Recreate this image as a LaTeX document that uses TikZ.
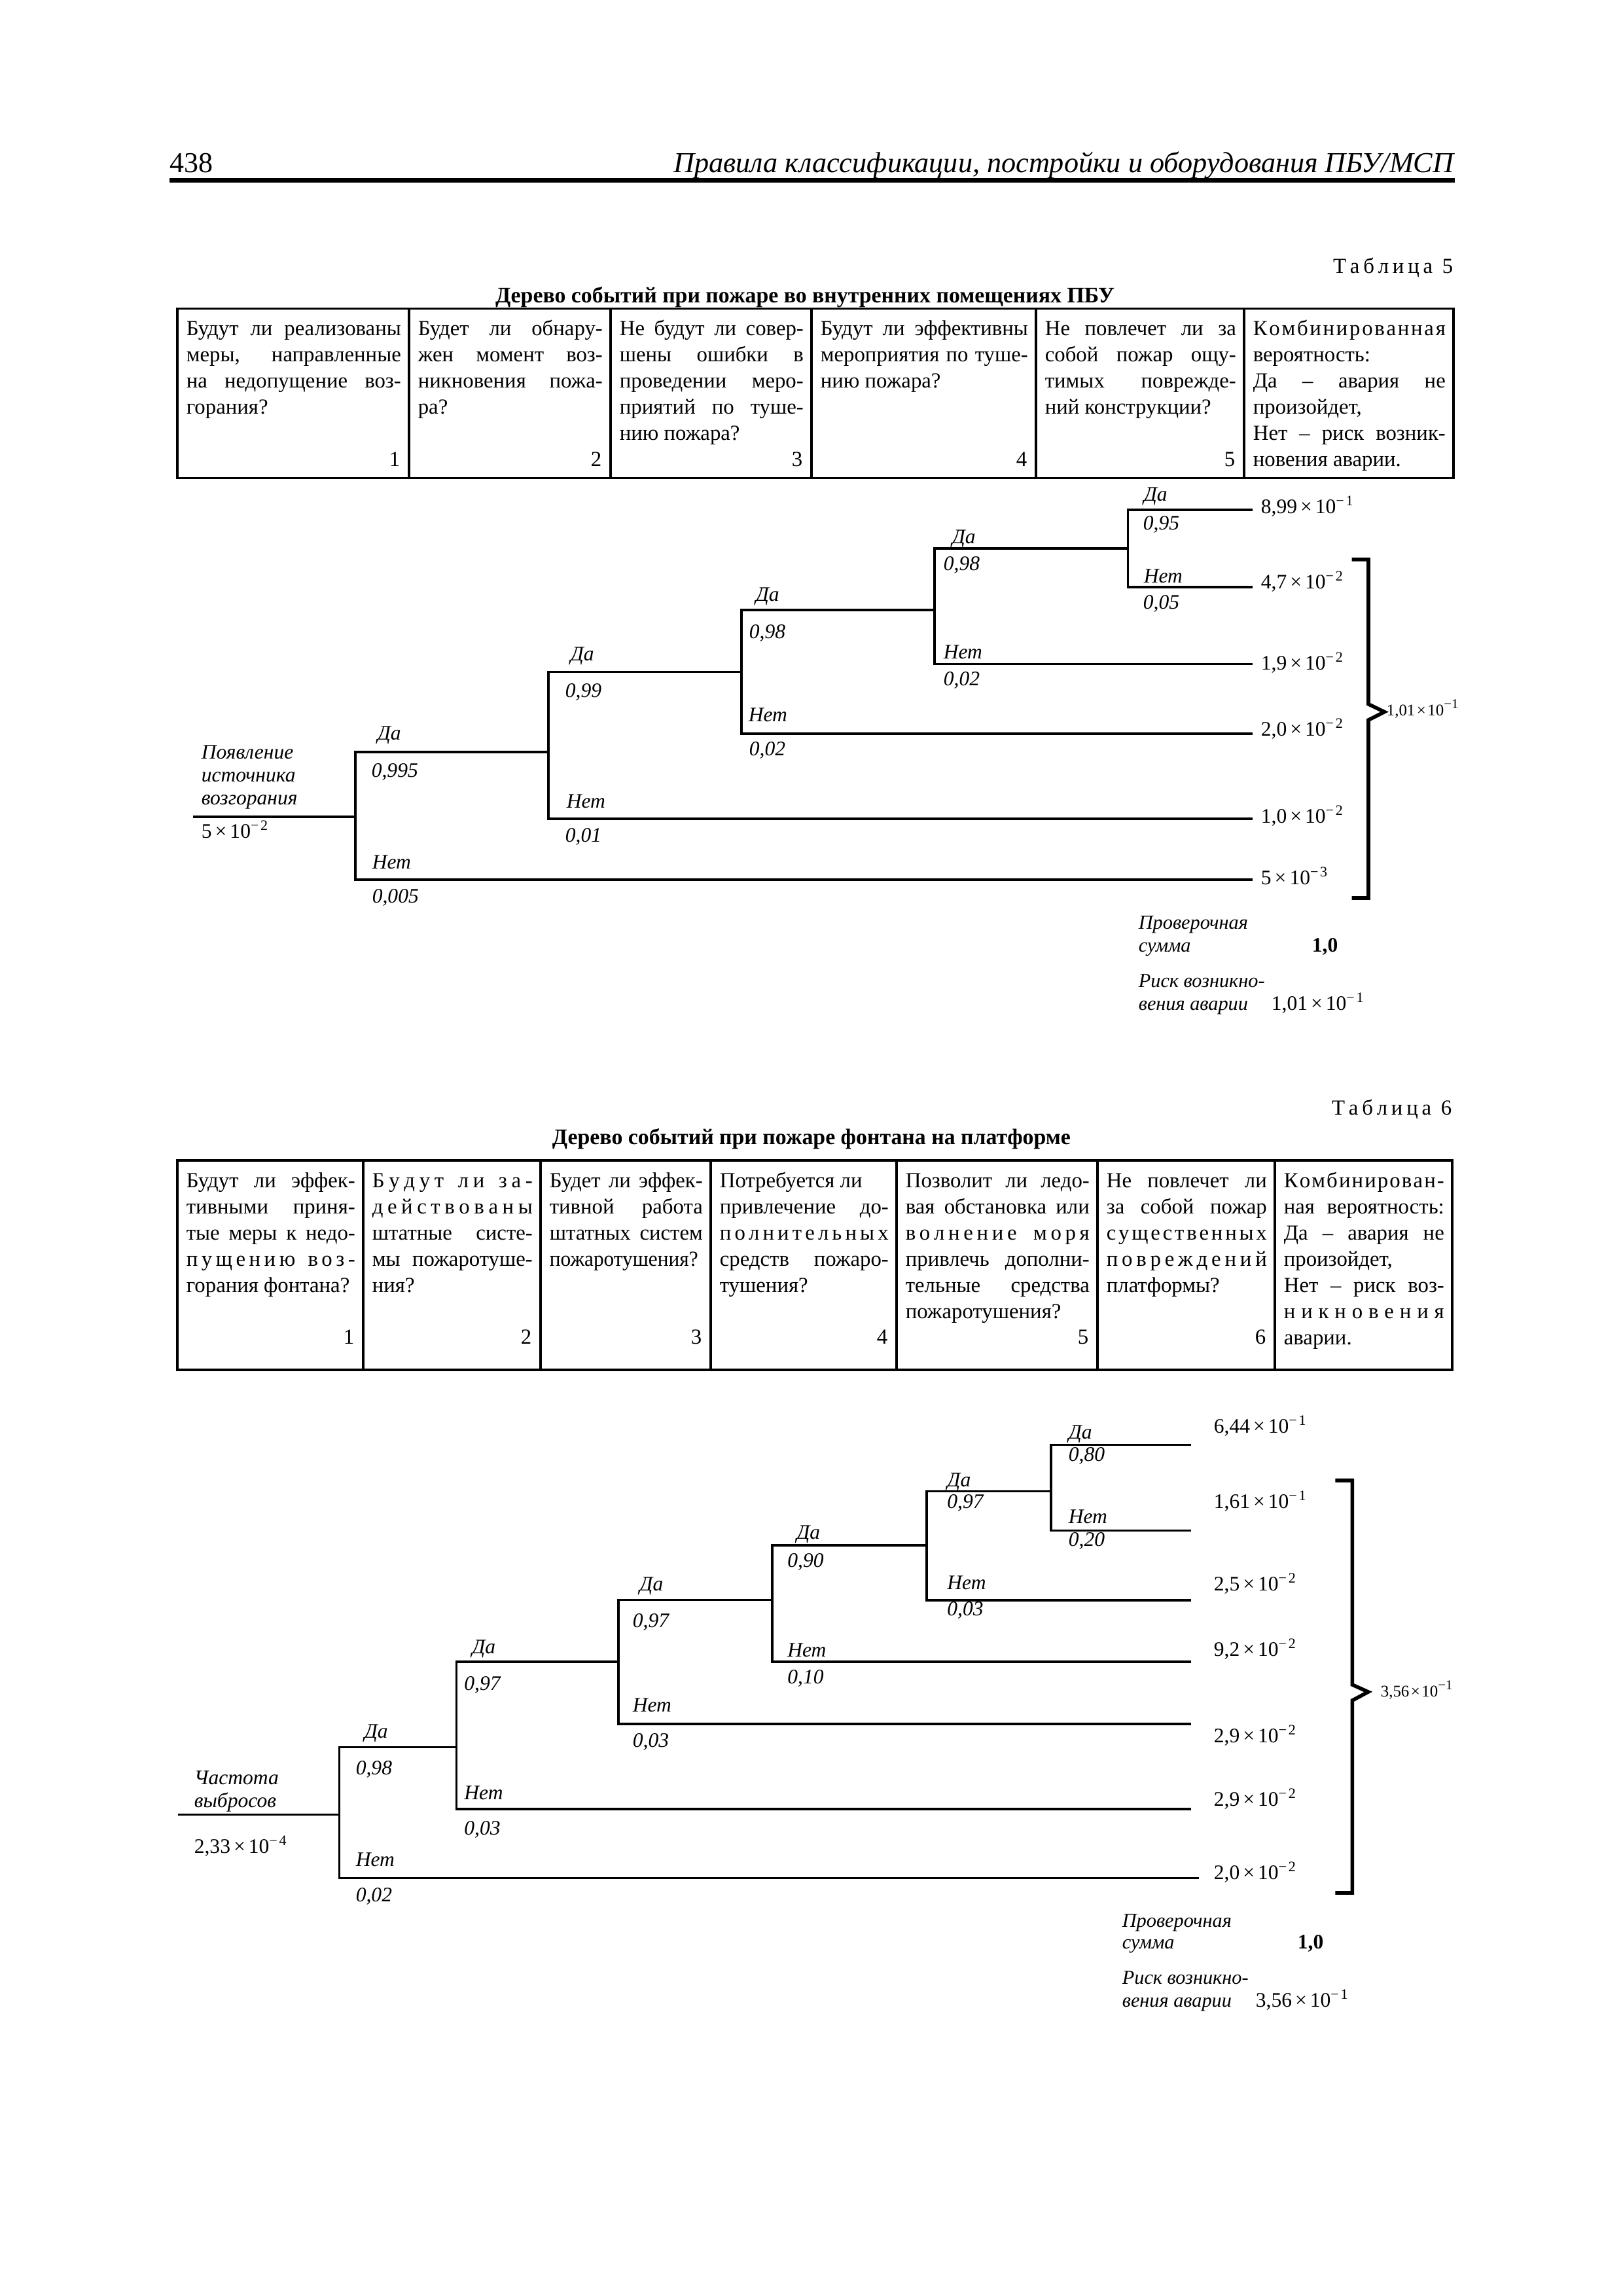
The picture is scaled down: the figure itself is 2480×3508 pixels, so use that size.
\documentclass[tikz,border=0pt]{standalone}
\usepackage{fontspec}
\usepackage{graphicx}
\setmainfont{Liberation Serif}
\newlength\px \setlength\px{0.084667mm}
\makeatletter
\def\lspsep{\hfil}
\def\lsp#1{\lsp@a#1\@nil}
\def\lsp@a#1{#1\lsp@b}
\def\lsp@b#1{\ifx#1\@nil\else\lspsep#1\expandafter\lsp@b\fi}
\makeatother
\newcommand\tracked[2]{{\def\lspsep{\kern#1}\lsp{#2}}}
\newcommand\tabfont{\fontsize{7.9}{9.65}\selectfont}
\newcommand\labfont{\fontsize{7.6}{9}\selectfont\itshape}
\newcommand\sumfont{\fontsize{7.3}{9}\selectfont\itshape}
\newcommand\jline[1]{\makebox[\linewidth][s]{#1}\par}
\newcommand\nline[1]{\mbox{#1}\par}
\newcommand\scin[2]{#1\hspace{0.16em}×\hspace{0.16em}10\textsuperscript{−\hspace{0.12em}#2}}
\newcommand\tcell[5]{\node[anchor=base west,inner sep=0pt] (#1) at (#2,#3) {\parbox[t]{#4\px}{\tabfont\parskip=0pt #5}};}
\tikzset{
  tbl/.style={line width=0.85pt},
  br/.style={line width=0.9pt, line join=miter},
  brk/.style={line width=1.35pt, line join=miter},
  lab/.style={anchor=base west, inner sep=0pt, font=\labfont},
  sumlab/.style={anchor=base west, inner sep=0pt, font=\sumfont},
  outc/.style={anchor=base west, inner sep=0pt, font=\fontsize{7.6}{9}\selectfont},
  num/.style={anchor=base east, inner sep=0pt, font=\tabfont},
  small/.style={anchor=base west, inner sep=0pt, font=\fontsize{6}{7}\selectfont},
  boldv/.style={anchor=base west, inner sep=0pt, font=\fontsize{7.6}{9}\selectfont\bfseries},
  ttl/.style={anchor=base, inner sep=0pt, font=\fontsize{8.15}{10}\selectfont\bfseries},
}
\begin{document}
\begin{tikzpicture}[x=0.084667mm, y=-0.084667mm]
\useasboundingbox (0,0) rectangle (2480,3508);
\fill[white] (0,0) rectangle (2480,3508);

% ---------- page header ----------
\node[anchor=base west, inner sep=0pt, font=\fontsize{10.6}{12}\selectfont] (pnum) at (259,263) {438};
\node[anchor=base east, inner sep=0pt, font=\fontsize{10.65}{12}\selectfont\itshape] (hdr) at (2222,263) {Правила классификации, постройки и оборудования ПБУ/МСП};
\coordinate (ruleL) at (259,275.5);
\coordinate (ruleR) at (2223,275.5);
\draw[line width=1.7pt] (ruleL) -- (ruleR);

% ---------- table 5 ----------
\node[anchor=base east, inner sep=0pt, font=\tabfont] (tab5) at (2221,417) {\tracked{1.4pt}{Таблица}\hspace{3.5pt}5};
\node[ttl] (ttl5) at (1230,462) {Дерево событий при пожаре во внутренних помещениях ПБУ};
\draw[tbl] (271,471.5) rectangle (2221,730.5);
\foreach \x in {625,933,1240,1583,1901} \draw[tbl] (\x,471.5) -- (\x,730.5);
\tcell{t5c1}{284}{512.7}{328}{\jline{Будут ли реализованы}\jline{меры, направленные}\jline{на недопущение воз-}\nline{горания?}}
\tcell{t5c2}{638}{512.7}{282}{\jline{Будет ли обнару-}\jline{жен момент воз-}\jline{никновения пожа-}\nline{ра?}}
\tcell{t5c3}{946}{512.7}{281}{\jline{Не будут ли совер-}\jline{шены ошибки в}\jline{проведении меро-}\jline{приятий по туше-}\nline{нию пожара?}}
\tcell{t5c4}{1253}{512.7}{317}{\jline{Будут ли эффективны}\jline{мероприятия по туше-}\nline{нию пожара?}}
\tcell{t5c5}{1596}{512.7}{292}{\jline{Не повлечет ли за}\jline{собой пожар ощу-}\jline{тимых поврежде-}\nline{ний конструкции?}}
\tcell{t5c6}{1914}{512.7}{294}{\jline{\lsp{Комбинированная}}\nline{вероятность:}\jline{Да – авария не}\nline{произойдет,}\jline{Нет – риск возник-}\nline{новения аварии.}}
\node[num] (n51) at (612,712) {1};
\node[num] (n52) at (920,712) {2};
\node[num] (n53) at (1227,712) {3};
\node[num] (n54) at (1570,712) {4};
\node[num] (n55) at (1888,712) {5};

% ---------- tree 1 ----------
\coordinate (a0) at (294.5,1248);
\coordinate (a1) at (543,1248);
\coordinate (a1y) at (543,1149);   \coordinate (a1n) at (543,1344);
\coordinate (a2) at (838,1149);
\coordinate (a2y) at (838,1026.5); \coordinate (a2n) at (838,1251);
\coordinate (a3) at (1133,1026.5);
\coordinate (a3y) at (1133,932);   \coordinate (a3n) at (1133,1121);
\coordinate (a4) at (1428,932);
\coordinate (a4y) at (1428,838);   \coordinate (a4n) at (1428,1014.6);
\coordinate (a5) at (1723.6,838);
\coordinate (a5y) at (1723.6,779); \coordinate (a5n) at (1723.6,897);
\coordinate (ae1) at (1914,779);
\coordinate (ae2) at (1914,897);
\coordinate (ae3) at (1914,1014.6);
\coordinate (ae4) at (1914,1121);
\coordinate (ae5) at (1914,1251);
\coordinate (ae6) at (1914,1344);
\draw[br] (a0) -- (a1);
\draw[br] (a2) -- (a1y) -- (a1n) -- (ae6);
\draw[br] (a3) -- (a2y) -- (a2n) -- (ae5);
\draw[br] (a4) -- (a3y) -- (a3n) -- (ae4);
\draw[br] (a5) -- (a4y) -- (a4n) -- (ae3);
\draw[br] (ae1) -- (a5y) -- (a5n) -- (ae2);

\node[lab] (t1r1) at (307,1159) {Появление};
\node[lab] (t1r2) at (307,1194) {источника};
\node[lab] (t1r3) at (307,1229) {возгорания};
\node[outc] (t1r4) at (307,1280) {\scin{5}{2}};

\node[lab] (t1d1) at (576,1130) {Да};   \node[lab] (t1p1) at (567,1187) {0,995};
\node[lab] (t1n1) at (568,1327) {Нет};  \node[lab] (t1q1) at (568,1379) {0,005};
\node[lab] (t1d2) at (871,1009) {Да};   \node[lab] (t1p2) at (863,1065) {0,99};
\node[lab] (t1n2) at (865,1234) {Нет};  \node[lab] (t1q2) at (863,1286) {0,01};
\node[lab] (t1d3) at (1154,918) {Да};   \node[lab] (t1p3) at (1144,975) {0,98};
\node[lab] (t1n3) at (1143,1102) {Нет}; \node[lab] (t1q3) at (1144,1154) {0,02};
\node[lab] (t1d4) at (1454,830) {Да};   \node[lab] (t1p4) at (1441,871) {0,98};
\node[lab] (t1n4) at (1441,1006) {Нет}; \node[lab] (t1q4) at (1441,1047) {0,02};
\node[lab] (t1d5) at (1747,765) {Да};   \node[lab] (t1p5) at (1746,809) {0,95};
\node[lab] (t1n5) at (1747,890) {Нет};  \node[lab] (t1q5) at (1746,930) {0,05};

\node[outc] (t1o1) at (1926,784) {\scin{8,99}{1}};
\node[outc] (t1o2) at (1926,899) {\scin{4,7}{2}};
\node[outc] (t1o3) at (1926,1023) {\scin{1,9}{2}};
\node[outc] (t1o4) at (1926,1124) {\scin{2,0}{2}};
\node[outc] (t1o5) at (1926,1257) {\scin{1,0}{2}};
\node[outc] (t1o6) at (1926,1351) {\scin{5}{3}};

\coordinate (k1a) at (2065.6,854.7); \coordinate (k1b) at (2091,854.7);
\coordinate (k1c) at (2091,1075.8);  \coordinate (k1t) at (2115.5,1087.7);
\coordinate (k1d) at (2091,1100);    \coordinate (k1e) at (2091,1372);
\coordinate (k1f) at (2065.6,1372);
\draw[brk] (k1a) -- (k1b) -- (k1c) -- (k1t) -- (k1d) -- (k1e) -- (k1f);
\node[small] (t1sum) at (2118,1093) {1,01\hspace{0.1em}×\hspace{0.1em}10\textsuperscript{−1}};

\node[sumlab] (t1c1) at (1739,1419) {Проверочная};
\node[sumlab] (t1c2) at (1739,1454) {сумма};
\node[boldv] (t1c3) at (2004,1454) {1,0};
\node[sumlab] (t1c4) at (1739,1508) {Риск возникно-};
\node[sumlab] (t1c5) at (1739,1543) {вения аварии};
\node[outc] (t1c6) at (1942,1543) {\scin{1,01}{1}};

% ---------- table 6 ----------
\node[anchor=base east, inner sep=0pt, font=\tabfont] (tab6) at (2219,1703) {\tracked{1.4pt}{Таблица}\hspace{3.5pt}6};
\node[ttl] (ttl6) at (1240,1748) {Дерево событий при пожаре фонтана на платформе};
\draw[tbl] (271,1773) rectangle (2219,2093);
\foreach \x in {555,826,1086,1370,1677,1948} \draw[tbl] (\x,1773) -- (\x,2093);
\tcell{t6c1}{284}{1814}{258}{\jline{Будут ли эффек-}\jline{тивными приня-}\jline{тые меры к недо-}\jline{\lsp{пущению} \hfil\hfil\lsp{воз-}}\nline{горания фонтана?}}
\tcell{t6c2}{568}{1814}{245}{\jline{\lsp{Будут} \hfil\hfil\lsp{ли} \hfil\hfil\lsp{за-}}\jline{\lsp{действованы}}\jline{штатные систе-}\jline{мы пожаротуше-}\nline{ния?}}
\tcell{t6c3}{839}{1814}{234}{\jline{Будет ли эффек-}\jline{тивной работа}\jline{штатных систем}\nline{\scalebox{0.955}[1]{пожаротушения?}}}
\tcell{t6c4}{1099}{1814}{258}{\nline{Потребуется ли}\jline{привлечение до-}\jline{\lsp{полнительных}}\jline{средств пожаро-}\nline{тушения?}}
\tcell{t6c5}{1383}{1814}{281}{\jline{Позволит ли ледо-}\jline{вая обстановка или}\jline{\lsp{волнение} \hfil\hfil\hfil\lsp{моря}}\jline{привлечь дополни-}\jline{тельные средства}\nline{пожаротушения?}}
\tcell{t6c6}{1690}{1814}{245}{\jline{Не повлечет ли}\jline{за собой пожар}\jline{\lsp{существенных}}\jline{\lsp{повреждений}}\nline{платформы?}}
\tcell{t6c7}{1961}{1814}{245}{\jline{\lsp{Комбинирован-}}\jline{ная вероятность:}\jline{Да – авария не}\nline{произойдет,}\jline{Нет – риск воз-}\jline{\lsp{никновения}}\nline{аварии.}}
\node[num] (n61) at (542,2053) {1};
\node[num] (n62) at (813,2053) {2};
\node[num] (n63) at (1073,2053) {3};
\node[num] (n64) at (1357,2053) {4};
\node[num] (n65) at (1664,2053) {5};
\node[num] (n66) at (1935,2053) {6};

% ---------- tree 2 ----------
\coordinate (b0) at (271.6,2772.4);
\coordinate (b1) at (518.5,2772.4);
\coordinate (b1y) at (518.5,2669.4); \coordinate (b1n) at (518.5,2869.4);
\coordinate (b2) at (697.4,2669.4);
\coordinate (b2y) at (697.4,2538.8); \coordinate (b2n) at (697.4,2763.8);
\coordinate (b3) at (945,2538.8);
\coordinate (b3y) at (945,2444.4);   \coordinate (b3n) at (945,2633.7);
\coordinate (b4) at (1180,2444.4);
\coordinate (b4y) at (1180,2360.7);  \coordinate (b4n) at (1180,2539.3);
\coordinate (b5) at (1416.3,2360.7);
\coordinate (b5y) at (1416.3,2278.4); \coordinate (b5n) at (1416.3,2445);
\coordinate (b6) at (1606,2278.4);
\coordinate (b6y) at (1606,2207.6);  \coordinate (b6n) at (1606,2338.4);
\coordinate (be1) at (1820,2207.6);
\coordinate (be2) at (1820,2338.4);
\coordinate (be3) at (1820,2445);
\coordinate (be4) at (1820,2539.3);
\coordinate (be5) at (1820,2633.7);
\coordinate (be6) at (1820,2763.8);
\coordinate (be7) at (1832,2869.4);
\draw[br] (b0) -- (b1);
\draw[br] (b2) -- (b1y) -- (b1n) -- (be7);
\draw[br] (b3) -- (b2y) -- (b2n) -- (be6);
\draw[br] (b4) -- (b3y) -- (b3n) -- (be5);
\draw[br] (b5) -- (b4y) -- (b4n) -- (be4);
\draw[br] (b6) -- (b5y) -- (b5n) -- (be3);
\draw[br] (be1) -- (b6y) -- (b6n) -- (be2);

\node[lab] (t2r1) at (296,2726.5) {Частота};
\node[lab] (t2r2) at (296,2761) {выбросов};
\node[outc] (t2r3) at (296,2831) {\scin{2,33}{4}};

\node[lab] (t2d1) at (556,2655) {Да};      \node[lab] (t2p1) at (543,2711) {0,98};
\node[lab] (t2n1) at (543,2851.5) {Нет};   \node[lab] (t2q1) at (543,2905) {0,02};
\node[lab] (t2d2) at (720.5,2526) {Да};    \node[lab] (t2p2) at (708.6,2582.6) {0,97};
\node[lab] (t2n2) at (708.6,2749.5) {Нет}; \node[lab] (t2q2) at (708.6,2803) {0,03};
\node[lab] (t2d3) at (976.6,2430.6) {Да};  \node[lab] (t2p3) at (966,2486.7) {0,97};
\node[lab] (t2n3) at (966,2615) {Нет};     \node[lab] (t2q3) at (966,2669) {0,03};
\node[lab] (t2d4) at (1216.5,2351.5) {Да}; \node[lab] (t2p4) at (1202.5,2394) {0,90};
\node[lab] (t2n4) at (1202.5,2531.6) {Нет}; \node[lab] (t2q4) at (1202.5,2572.4) {0,10};
\node[lab] (t2d5) at (1446.6,2271) {Да};   \node[lab] (t2p5) at (1446.6,2304.5) {0,97};
\node[lab] (t2n5) at (1446.6,2428.7) {Нет}; \node[lab] (t2q5) at (1446.6,2468) {0,03};
\node[lab] (t2d6) at (1632,2198.5) {Да};   \node[lab] (t2p6) at (1632,2232) {0,80};
\node[lab] (t2n6) at (1632,2327) {Нет};    \node[lab] (t2q6) at (1632,2362) {0,20};

\node[outc] (t2o1) at (1854,2189) {\scin{6,44}{1}};
\node[outc] (t2o2) at (1854,2304.5) {\scin{1,61}{1}};
\node[outc] (t2o3) at (1854,2430) {\scin{2,5}{2}};
\node[outc] (t2o4) at (1854,2530.5) {\scin{9,2}{2}};
\node[outc] (t2o5) at (1854,2662) {\scin{2,9}{2}};
\node[outc] (t2o6) at (1854,2759) {\scin{2,9}{2}};
\node[outc] (t2o7) at (1854,2871) {\scin{2,0}{2}};

\coordinate (k2a) at (2040.4,2262); \coordinate (k2b) at (2066.4,2262);
\coordinate (k2c) at (2066.4,2574); \coordinate (k2t) at (2090.7,2585);
\coordinate (k2d) at (2066.4,2598); \coordinate (k2e) at (2066.4,2892);
\coordinate (k2f) at (2040.4,2892);
\draw[brk] (k2a) -- (k2b) -- (k2c) -- (k2t) -- (k2d) -- (k2e) -- (k2f);
\node[small] (t2sum) at (2109,2592) {3,56\hspace{0.1em}×\hspace{0.1em}10\textsuperscript{−1}};

\node[sumlab] (t2c1) at (1714,2944) {Проверочная};
\node[sumlab] (t2c2) at (1714,2977) {сумма};
\node[boldv] (t2c3) at (1982,2977) {1,0};
\node[sumlab] (t2c4) at (1714,3031.5) {Риск возникно-};
\node[sumlab] (t2c5) at (1714,3066) {вения аварии};
\node[outc] (t2c6) at (1918,3066) {\scin{3,56}{1}};
\end{tikzpicture}
\end{document}
